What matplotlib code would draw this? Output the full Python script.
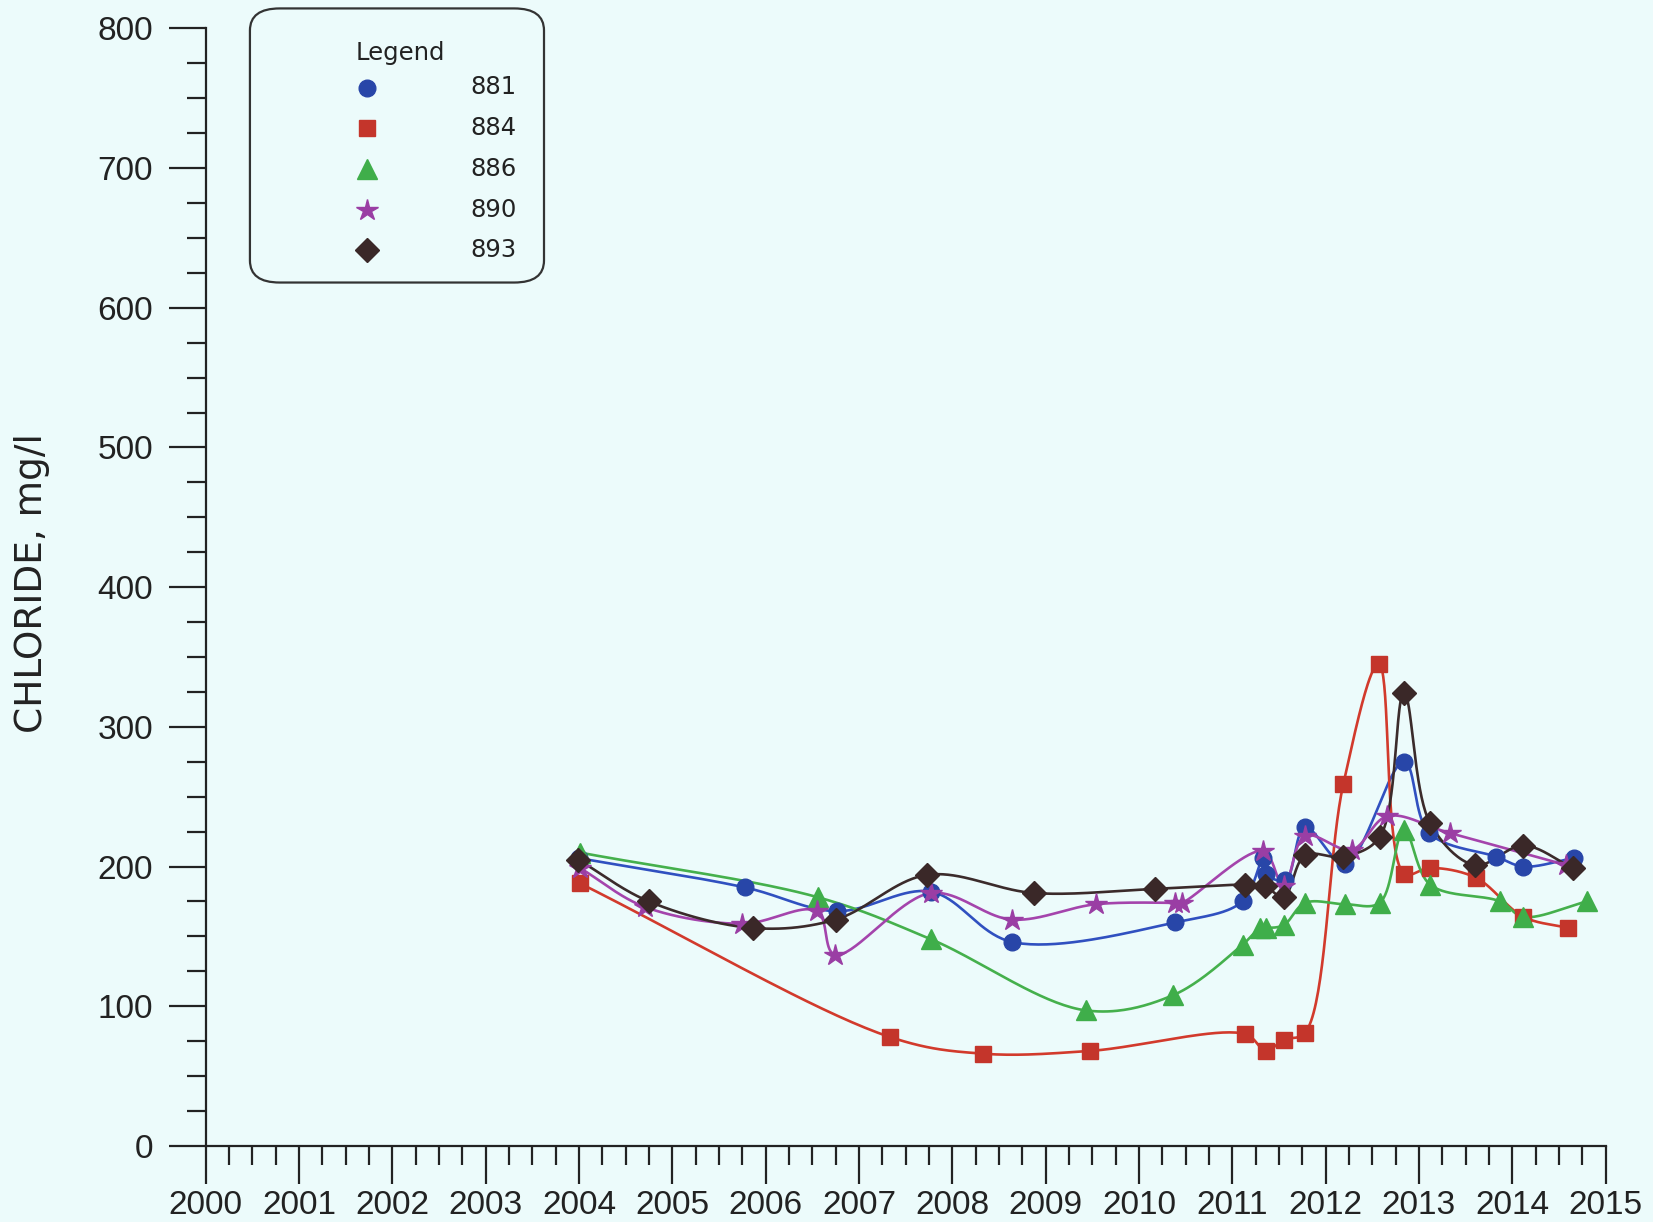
import numpy as np
import matplotlib
matplotlib.use("Agg")
import matplotlib.pyplot as plt
from matplotlib.patches import FancyBboxPatch
from matplotlib.lines import Line2D

# DATA
x881 = [2004.0, 2005.78, 2006.76, 2007.77, 2008.64, 2010.39, 2011.11, 2011.33, 2011.36,
        2011.57, 2011.78, 2012.21, 2012.84, 2013.11, 2013.83, 2014.12, 2014.66]
y881 = [206, 185, 168, 182, 146, 160, 175, 206, 195, 190, 228, 202, 275, 224, 207, 200, 206]

x884 = [2004.01, 2007.33, 2008.33, 2009.48, 2011.14, 2011.36, 2011.55, 2011.78, 2012.19,
        2012.57, 2012.84, 2013.12, 2013.61, 2014.12, 2014.60]
y884 = [188, 78, 66, 68, 80, 68, 76, 81, 259, 345, 195, 199, 192, 164, 156]

x886 = [2004.01, 2006.56, 2007.77, 2009.43, 2010.37, 2011.11, 2011.30, 2011.36, 2011.55,
        2011.78, 2012.21, 2012.58, 2012.84, 2013.12, 2013.87, 2014.12, 2014.80]
y886 = [210, 178, 148, 97, 108, 144, 156, 156, 158, 174, 173, 174, 226, 187, 175, 164, 175]

x890 = [2004.01, 2004.71, 2005.75, 2006.55, 2006.74, 2007.77, 2008.64, 2009.54, 2010.39,
        2010.46, 2011.33, 2011.55, 2011.78, 2012.28, 2012.66, 2013.33, 2014.58]
y890 = [199, 171, 159, 168, 137, 181, 162, 173, 174, 174, 211, 186, 222, 212, 236, 224, 201]

x893 = [2003.99, 2004.75, 2005.86, 2006.75, 2007.73, 2008.88, 2010.17, 2011.14, 2011.35,
        2011.55, 2011.78, 2012.19, 2012.58, 2012.84, 2013.12, 2013.60, 2014.12, 2014.65]
y893 = [205, 175, 156, 162, 194, 181, 184, 187, 186, 178, 208, 207, 221, 324, 231, 201, 215, 199]

labels = ["881", "884", "886", "890", "893"]
BG = "#ecfbfb"


def smooth(x, y, n=40):
    # centripetal Catmull-Rom through the points, done in screen-like units
    sx, sy = 93.33, 1.397
    P = np.column_stack([(np.asarray(x) - 2000) * sx, np.asarray(y) * sy])
    P = np.vstack([2 * P[0] - P[1], P, 2 * P[-1] - P[-2]])
    out = []
    for i in range(1, len(P) - 2):
        p0, p1, p2, p3 = P[i - 1:i + 3]
        t0 = 0.0
        t1 = t0 + np.linalg.norm(p1 - p0) ** 0.5
        t2 = t1 + np.linalg.norm(p2 - p1) ** 0.5
        t3 = t2 + np.linalg.norm(p3 - p2) ** 0.5
        t = np.linspace(t1, t2, n)[:, None]
        a1 = (t1 - t) / (t1 - t0) * p0 + (t - t0) / (t1 - t0) * p1
        a2 = (t2 - t) / (t2 - t1) * p1 + (t - t1) / (t2 - t1) * p2
        a3 = (t3 - t) / (t3 - t2) * p2 + (t - t2) / (t3 - t2) * p3
        b1 = (t2 - t) / (t2 - t0) * a1 + (t - t0) / (t2 - t0) * a2
        b2 = (t3 - t) / (t3 - t1) * a2 + (t - t1) / (t3 - t1) * a3
        c = (t2 - t) / (t2 - t1) * b1 + (t - t1) / (t2 - t1) * b2
        out.append(c)
    out = np.vstack(out)
    return out[:, 0] / sx + 2000, out[:, 1] / sy


series = [
    (x881, y881, "#3050c0", "#2846a8", "o", 12),
    (x884, y884, "#d23a2c", "#c4352b", "s", 11),
    (x886, y886, "#45b04c", "#3fae4a", "^", 15),
    (x890, y890, "#a444ac", "#9a3ea4", "*", 16),
    (x893, y893, "#3b2b2b", "#3a2828", "D", 12.5),
]

fig = plt.figure(figsize=(16.53, 12.22), dpi=100, facecolor=BG)
ax = fig.add_axes([0.1244, 0.0623, 0.8469, 0.9144], facecolor=BG)

for xs, ys, lc, mc, m, ms in series:
    sx_, sy_ = smooth(xs, ys)
    ax.plot(sx_, sy_, color=lc, lw=1.9, zorder=2)
for xs, ys, lc, mc, m, ms in series:
    ax.plot(xs, ys, ls="none", marker=m, ms=ms, color=mc, mec=mc, zorder=3)

ax.set_xlim(2000, 2015)
ax.set_ylim(0, 800)
ax.spines["top"].set_visible(False)
ax.spines["right"].set_visible(False)
for s in ("left", "bottom"):
    ax.spines[s].set_linewidth(1.6)
    ax.spines[s].set_color("#222222")

ax.set_xticks(np.arange(2000, 2016, 1))
ax.set_xticks(np.arange(2000, 2015.01, 0.25), minor=True)
ax.set_yticks(np.arange(0, 801, 100))
ax.set_yticks(np.arange(0, 801, 25), minor=True)
ax.set_xticklabels([str(v) for v in range(2000, 2016)])
ax.tick_params(axis="both", which="major", direction="out", width=1.6, color="#222222",
               labelsize=24, labelcolor="#222222")
ax.tick_params(axis="x", which="major", length=27, pad=5)
ax.tick_params(axis="x", which="minor", length=14, width=1.6, color="#222222")
ax.tick_params(axis="y", which="major", length=27, pad=11)
ax.tick_params(axis="y", which="minor", length=14, width=1.6, color="#222222")
for lab in ax.get_xticklabels() + ax.get_yticklabels():
    lab.set_family("Liberation Sans")

fig.text(0.0194, 0.523, "CHLORIDE, mg/l", rotation=90, ha="center", va="center",
         fontsize=27, family="DejaVu Sans", color="#222222")

# legend box drawn by hand
box = FancyBboxPatch((0.1512, 0.7688), 0.1779, 0.2243, transform=fig.transFigure,
                     boxstyle="round,pad=0,rounding_size=0.018", facecolor=BG,
                     edgecolor="#333333", lw=1.6, zorder=5)
fig.patches.append(box)
fig.text(0.2149, 1 - 52.7 / 1222, "Legend", ha="left", va="center", fontsize=17.5,
         family="DejaVu Sans", color="#222222", zorder=6)
row_y = [87.5, 127.6, 168.7, 209.8, 249.8]
for (xs, ys, lc, mc, m, ms), lab, ry in zip(series, labels, row_y):
    yf = 1 - ry / 1222
    fig.lines.append(Line2D([0.2219], [yf], marker=m, ms=ms, color=mc, mec=mc,
                            transform=fig.transFigure, zorder=6))
    fig.text(0.3125, yf, lab, ha="right", va="center", fontsize=17.5,
             family="DejaVu Sans", color="#222222", zorder=6)

plt.savefig("out.png", dpi=100, facecolor=BG)
